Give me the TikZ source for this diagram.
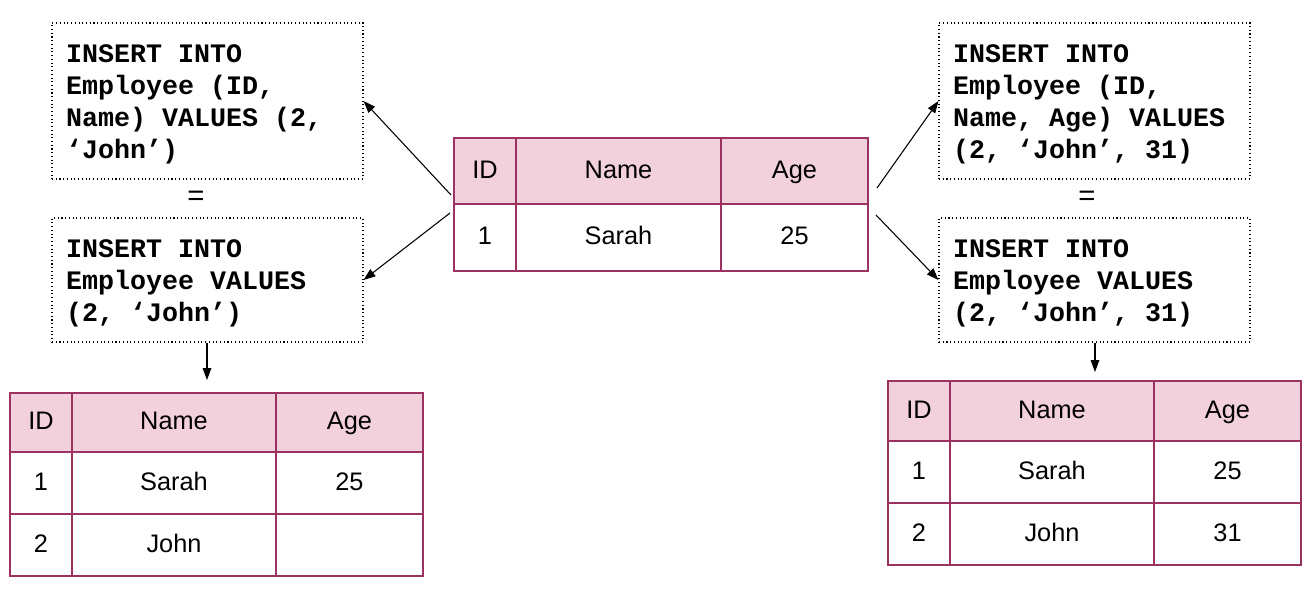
\documentclass[tikz,border=0pt]{standalone}
\usepackage{fontspec}
\newfontfamily\sqlfont{Liberation Mono}
\newfontfamily\tabfont{Liberation Sans}
\usetikzlibrary{arrows.meta}
\definecolor{tabline}{RGB}{155,50,95}
\definecolor{headfill}{RGB}{242,208,220}
\newcommand\sqlsetup{\sqlfont\bfseries\fontsize{20}{24}\selectfont}
\newcommand\sqlstrut{\spaceskip 0.6em\relax\xspaceskip 0.6em\relax\vrule width 0pt height 19pt depth 0pt\relax}
\newcommand\tcell[7]{\node[tcellst,fill=#7,minimum width={(#4-#2)*0.75pt},minimum height={(#5-#3)*0.75pt}] (#1) at ({(#2+#4)/2},{(#3+#5)/2}) {#6};}
\begin{document}
\begin{tikzpicture}[x=0.75pt,y=-0.75pt,
 tcellst/.style={draw=tabline,line width=1pt,inner sep=0pt,text height=14pt,text depth=3.1pt,font=\tabfont\fontsize{19}{22}\selectfont,text=black},
 sqlbox/.style={draw,dotted,line width=0.8pt,align=left,text width=283*0.75pt,inner xsep=14*0.75pt,inner ysep=0pt,
   font=\sqlsetup},
 eqst/.style={font=\sqlfont\fontsize{22}{24}\selectfont,inner sep=0pt},
 arr/.style={-{Triangle[length=9pt,width=6.5pt]},line width=0.8pt}]
\useasboundingbox (0,0) rectangle (1307,589);
% SQL boxes
\node[sqlbox,minimum height=156*0.75pt] (sqlA) at (207.5,101) {\sqlstrut INSERT INTO\\Employee (ID,\\Name) VALUES (2,\\‘John’)};
\node[sqlbox,minimum height=124*0.75pt] (sqlB) at (207.5,280) {\sqlstrut INSERT INTO\\Employee VALUES\\(2, ‘John’)};
\node[sqlbox,minimum height=156*0.75pt] (sqlC) at (1094.5,101) {\sqlstrut INSERT INTO\\Employee (ID,\\Name, Age) VALUES\\(2, ‘John’, 31)};
\node[sqlbox,minimum height=124*0.75pt] (sqlD) at (1094.5,280) {\sqlstrut INSERT INTO\\Employee VALUES\\(2, ‘John’, 31)};
\node[eqst] (eqL) at (196,198) {=};
\node[eqst] (eqR) at (1087,198) {=};
% centre table
\tcell{m00}{454}{138}{516}{204}{ID}{headfill}
\tcell{m01}{516}{138}{721}{204}{Name}{headfill}
\tcell{m02}{721}{138}{868}{204}{Age}{headfill}
\tcell{m10}{454}{204}{516}{271}{1}{white}
\tcell{m11}{516}{204}{721}{271}{Sarah}{white}
\tcell{m12}{721}{204}{868}{271}{25}{white}
% left table
\tcell{l00}{10}{393}{72}{452}{ID}{headfill}
\tcell{l01}{72}{393}{276}{452}{Name}{headfill}
\tcell{l02}{276}{393}{423}{452}{Age}{headfill}
\tcell{l10}{10}{452}{72}{514}{1}{white}
\tcell{l11}{72}{452}{276}{514}{Sarah}{white}
\tcell{l12}{276}{452}{423}{514}{25}{white}
\tcell{l20}{10}{514}{72}{576}{2}{white}
\tcell{l21}{72}{514}{276}{576}{John}{white}
\tcell{l22}{276}{514}{423}{576}{}{white}
% right table
\tcell{r00}{888}{381}{950}{441}{ID}{headfill}
\tcell{r01}{950}{381}{1154}{441}{Name}{headfill}
\tcell{r02}{1154}{381}{1301}{441}{Age}{headfill}
\tcell{r10}{888}{441}{950}{503}{1}{white}
\tcell{r11}{950}{441}{1154}{503}{Sarah}{white}
\tcell{r12}{1154}{441}{1301}{503}{25}{white}
\tcell{r20}{888}{503}{950}{565}{2}{white}
\tcell{r21}{950}{503}{1154}{565}{John}{white}
\tcell{r22}{1154}{503}{1301}{565}{31}{white}
% connector ends
\coordinate (sA) at (451,195);
\coordinate (sB) at (450,213);
\coordinate (sC) at (877,188);
\coordinate (sD) at (876,215);
\coordinate (eL) at (207,380);
\coordinate (eR) at (1095,372);
\draw[arr] (sA) -- (sqlA.east);
\draw[arr] (sB) -- (sqlB.east);
\draw[arr] (sC) -- (sqlC.west);
\draw[arr] (sD) -- (sqlD.west);
\draw[arr] (sqlB.south -| eL) -- (eL);
\draw[arr] (sqlD.south -| eR) -- (eR);
\end{tikzpicture}
\end{document}
